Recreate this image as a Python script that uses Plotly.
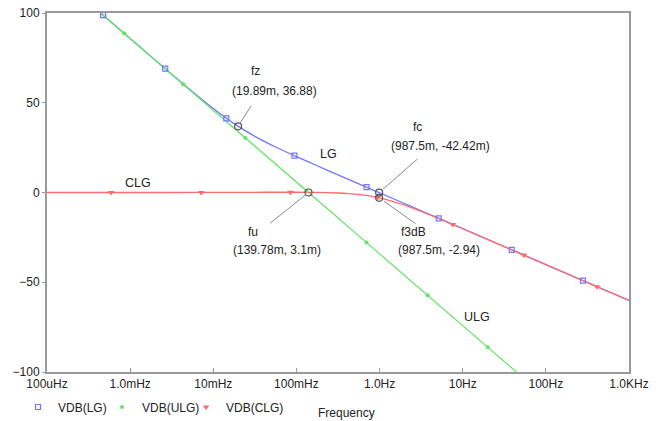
import math
import plotly.graph_objects as go

# ---- data ----
lg_freq = [0.00044, 0.001, 0.001778, 0.003162, 0.005623, 0.01, 0.01778, 0.03162,
           0.05623, 0.1, 0.1778, 0.3162, 0.5623, 1.0, 1.778, 3.162, 10, 100, 1000]
lg_db = [100.0, 85.82, 75.84, 65.92, 56.14, 46.79, 38.36, 31.29,
         25.35, 20.01, 14.89, 9.86, 4.85, -0.16, -5.16, -10.16, -20.16, -40.16, -60.16]

ulg_freq = [0.00044, 0.001, 0.01, 0.1, 1.0, 10, 44.2]
ulg_db = [100.0, 85.81, 45.81, 5.81, -34.19, -74.19, -100.0]

clg_freq = [0.0001, 0.001, 0.003162, 0.01, 0.01778, 0.03162, 0.05623, 0.1, 0.1778,
            0.3162, 0.4217, 0.5623, 0.7499, 1.0, 1.334, 1.778, 2.371, 3.162, 5.623,
            10, 31.62, 100, 1000]
clg_db = [0.0, 0.0, 0.005, 0.036, 0.08, 0.125, 0.146, 0.128, 0.033,
          -0.27, -0.58, -1.10, -1.88, -3.00, -4.48, -6.27, -8.32, -10.54, -15.28,
          -20.20, -30.17, -40.16, -60.16]

lg_mk_freq = [4.73e-4, 2.642e-3, 0.01435, 0.09462, 0.6966, 5.140, 38.90, 279.3]
lg_mk_db = [98.8, 69.0, 41.35, 20.51, 2.98, -14.39, -31.97, -49.09]
ulg_mk_freq = [8.47e-4, 4.355e-3, 0.02432, 0.1318, 0.6966, 3.784, 20.0]
ulg_mk_db = [88.70, 60.25, 30.37, 1.01, -27.91, -57.31, -86.23]
clg_mk_freq = [5.90e-4, 7.16e-3, 0.0847, 0.946, 7.586, 54.33, 411.1]
clg_mk_db = [0.0, 0.02, 0.13, -2.72, -17.8, -34.86, -52.45]

cursor_names = ["fz", "fc", "fu", "f3dB"]
cursor_freq = [0.01989, 0.9875, 0.13978, 0.9875]
cursor_db = [36.88, -0.04242, 0.0031, -2.94]
cursor_text = ["(19.89m, 36.88)", "(987.5m, -42.42m)", "(139.78m, 3.1m)", "(987.5m, -2.94)"]

x_tickvals = [1e-4, 1e-3, 1e-2, 1e-1, 1, 10, 100, 1000]
x_ticktext = ["100uHz", "1.0mHz", "10mHz", "100mHz", "1.0Hz", "10Hz", "100Hz", "1.0KHz"]
y_tickvals = [-100, -50, 0, 50, 100]

C_LG = "#7474ff"
C_ULG = "#63e463"
C_CLG = "#ff6b6b"
FONT = "Liberation Sans, Arial, sans-serif"

fig = go.Figure()
fig.add_trace(go.Scatter(x=lg_freq, y=lg_db, mode="lines", line=dict(color=C_LG, width=1.3, shape="spline", smoothing=0.6),
                         showlegend=False, hoverinfo="skip"))
fig.add_trace(go.Scatter(x=ulg_freq, y=ulg_db, mode="lines", line=dict(color=C_ULG, width=1.3),
                         showlegend=False, hoverinfo="skip"))
fig.add_trace(go.Scatter(x=clg_freq, y=clg_db, mode="lines", line=dict(color=C_CLG, width=1.3, shape="spline", smoothing=0.6),
                         showlegend=False, hoverinfo="skip"))
fig.add_trace(go.Scatter(x=lg_mk_freq, y=lg_mk_db, mode="markers", name="VDB(LG)",
                         marker=dict(symbol="square-open", size=5, color=C_LG, line=dict(width=1.2, color=C_LG))))
fig.add_trace(go.Scatter(x=ulg_mk_freq, y=ulg_mk_db, mode="markers", name="VDB(ULG)",
                         marker=dict(symbol="circle", size=4, color=C_ULG)))
fig.add_trace(go.Scatter(x=clg_mk_freq, y=clg_mk_db, mode="markers", name="VDB(CLG)",
                         marker=dict(symbol="triangle-down", size=6, color=C_CLG)))
# empty legend spacer so the last legend label is not cut off
fig.add_trace(go.Scatter(x=[None], y=[None], mode="markers", name=" ",
                         marker=dict(size=1, color="rgba(0,0,0,0)"), hoverinfo="skip"))
fig.add_trace(go.Scatter(x=cursor_freq, y=cursor_db, mode="markers", showlegend=False,
                         marker=dict(symbol="circle-open", size=7, color="#555555", line=dict(width=1.2, color="#555555"))))

# leader lines (pixel offsets of the tail relative to the cursor point)
leader = {"fz": (14, -22, 4), "fc": (40, -35, 5), "fu": (-40, 32, 4), "f3dB": (38, 27, 6)}
annotations = []
for n, f, v in zip(cursor_names, cursor_freq, cursor_db):
    ax, ay, sd = leader[n]
    annotations.append(dict(x=math.log10(f), y=v, xref="x", yref="y", text="", showarrow=True,
                            arrowhead=0, arrowwidth=1, arrowcolor="#8a8a8a", ax=ax, ay=ay, standoff=sd))

# text labels (positions in paper fraction of plot area)
L, R, T, B = 46.5, 629.0, 13.0, 372.0
def px(x, y):
    return (x - L) / (R - L), (B - y) / (B - T)

labels = [("fz", 255, 71), ("(19.89m, 36.88)", 274, 91),
          ("fc", 417, 127), ("(987.5m, -42.42m)", 440, 146),
          ("fu", 253, 232), ("(139.78m, 3.1m)", 277, 250),
          ("f3dB", 413, 232), ("(987.5m, -2.94)", 439, 250),
          ("LG", 328, 154), ("CLG", 138, 183), ("ULG", 477, 317),
          ("Frequency", 346, 413)]
for t, x, y in labels:
    xx, yy = px(x, y)
    annotations.append(dict(x=xx, y=yy, xref="paper", yref="paper", text=t, showarrow=False,
                            xanchor="center", yanchor="middle",
                            font=dict(family=FONT, size=12.5 if t in ("LG", "CLG", "ULG") else 12, color="#222222")))

fig.update_layout(
    width=660, height=421,
    margin=dict(l=L, r=660 - R, t=T, b=421 - B, pad=0),
    paper_bgcolor="white", plot_bgcolor="white",
    font=dict(family=FONT, size=12, color="#222222"),
    annotations=annotations,
    legend=dict(orientation="h", xref="container", yref="container",
                x=0.0273, y=(421 - 407) / 421, xanchor="left", yanchor="middle",
                font=dict(family=FONT, size=12, color="#222222"), itemwidth=30,
                entrywidth=39, entrywidthmode="pixels",
                bgcolor="rgba(0,0,0,0)", tracegroupgap=0),
    xaxis=dict(type="log", range=[-4, 3], tickvals=x_tickvals, ticktext=x_ticktext, automargin=False,
               showgrid=False, zeroline=False, showline=True, linecolor="#9a9a9a", linewidth=2,
               mirror=True, ticks="inside", ticklen=4, tickcolor="#9a9a9a",
               tickfont=dict(family=FONT, size=12, color="#222222")),
    yaxis=dict(range=[-100, 100], tickvals=y_tickvals, showgrid=False, zeroline=False, automargin=False,
               showline=True, linecolor="#9a9a9a", linewidth=2, mirror=True,
               ticks="outside", ticklen=3, tickcolor="#9a9a9a",
               tickfont=dict(family=FONT, size=12, color="#222222")),
)

fig.write_html("out.html")
